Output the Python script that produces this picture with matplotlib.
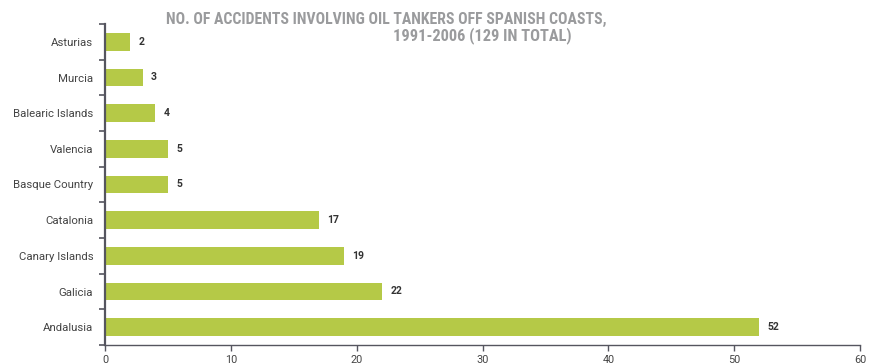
import matplotlib
matplotlib.use("Agg")
import matplotlib.pyplot as plt
import numpy as np

regions = ["Asturias", "Murcia", "Balearic Islands", "Valencia", "Basque Country",
           "Catalonia", "Canary Islands", "Galicia", "Andalusia"]
accidents = [2, 3, 4, 5, 5, 17, 19, 22, 52]
x_ticks = [0, 10, 20, 30, 40, 50, 60]

plt.rcParams["font.family"] = ["Roboto", "DejaVu Sans"]

W, H = 874, 363
fig = plt.figure(figsize=(W / 100, H / 100), dpi=100)
ax = fig.add_axes([105 / W, 18 / H, (860 - 105) / W, (345 - 24) / H])

bar_color = "#b5c947"
axis_color = "#55555f"
n = len(regions)
pos = np.arange(n)
ax.barh(pos, accidents, height=0.5, color=bar_color, zorder=2)
ax.set_ylim(n - 0.5, -0.5)
ax.set_xlim(0, 60)

for y, v in zip(pos, accidents):
    ax.annotate(str(v), (v, y), xytext=(6, 0), textcoords="offset points",
                va="center", ha="left", fontsize=7.5, fontweight="bold",
                color="#333333")

ax.set_yticks(pos)
ax.set_yticklabels(regions, fontsize=8.2, color="#444444")
ax.tick_params(axis="y", which="major", length=0, pad=8.5)
ax.set_yticks(np.arange(-0.5, n, 1.0), minor=True)
ax.tick_params(axis="y", which="minor", length=4, width=1.2, color=axis_color,
               direction="out")

ax.set_xticks(x_ticks)
ax.set_xticklabels([str(t) for t in x_ticks], fontsize=7.8, color="#444444")
ax.tick_params(axis="x", length=4, width=1, color=axis_color, direction="out", pad=3)

for s in ["top", "right"]:
    ax.spines[s].set_visible(False)
ax.spines["left"].set_color(axis_color)
ax.spines["left"].set_linewidth(1.6)
ax.spines["bottom"].set_color(axis_color)
ax.spines["bottom"].set_linewidth(1.0)

title_color = "#9a9b9d"
title_font = ["Roboto Condensed", "Liberation Sans Narrow", "Roboto", "DejaVu Sans"]
fig.text(386.5 / W, 1 - 24 / H, "NO. OF ACCIDENTS INVOLVING OIL TANKERS OFF SPANISH COASTS,",
         ha="center", va="baseline", fontsize=11.3, fontweight="bold", color=title_color,
         family=title_font)
fig.text(482.5 / W, 1 - 40 / H, "1991-2006 (129 IN TOTAL)",
         ha="center", va="baseline", fontsize=11.8, fontweight="bold", color=title_color,
         family=title_font)

fig.savefig("out.png", dpi=100)
